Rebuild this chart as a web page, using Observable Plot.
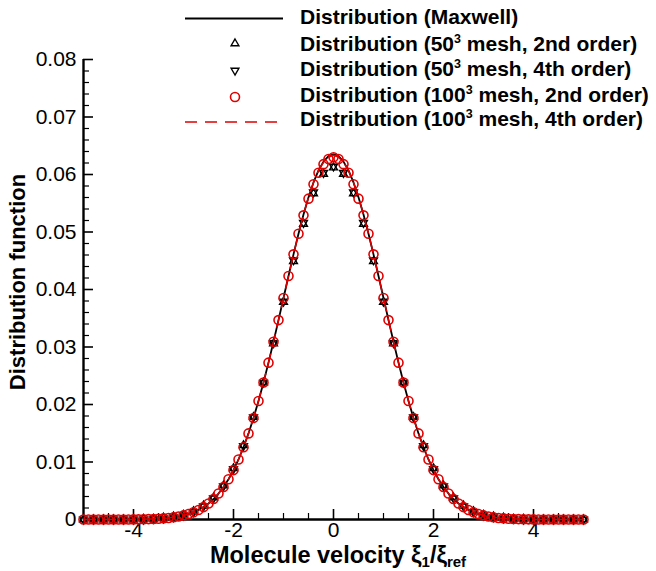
<!DOCTYPE html>
<html><head><meta charset="utf-8">
<script src="https://cdn.jsdelivr.net/npm/d3@7"></script>
<script src="https://cdn.jsdelivr.net/npm/@observablehq/plot@0.6"></script>
<style>body{margin:0;background:#fff;} svg{display:block}</style>
</head><body><div id="chart"></div>
<script>
// ---- data ----
const xFine = [-5,-4.9,-4.8,-4.7,-4.6,-4.5,-4.4,-4.3,-4.2,-4.1,-4,-3.9,-3.8,-3.7,-3.6,-3.5,-3.4,-3.3,-3.2,-3.1,-3,-2.9,-2.8,-2.7,-2.6,-2.5,-2.4,-2.3,-2.2,-2.1,-2,-1.9,-1.8,-1.7,-1.6,-1.5,-1.4,-1.3,-1.2,-1.1,-1,-0.9,-0.8,-0.7,-0.6,-0.5,-0.4,-0.3,-0.2,-0.1,0,0.1,0.2,0.3,0.4,0.5,0.6,0.7,0.8,0.9,1,1.1,1.2,1.3,1.4,1.5,1.6,1.7,1.8,1.9,2,2.1,2.2,2.3,2.4,2.5,2.6,2.7,2.8,2.9,3,3.1,3.2,3.3,3.4,3.5,3.6,3.7,3.8,3.9,4,4.1,4.2,4.3,4.4,4.5,4.6,4.7,4.8,4.9,5];
const xCoarse = [-5,-4.8,-4.6,-4.4,-4.2,-4,-3.8,-3.6,-3.4,-3.2,-3,-2.8,-2.6,-2.4,-2.2,-2,-1.8,-1.6,-1.4,-1.2,-1,-0.8,-0.6,-0.4,-0.2,0,0.2,0.4,0.6,0.8,1,1.2,1.4,1.6,1.8,2,2.2,2.4,2.6,2.8,3,3.2,3.4,3.6,3.8,4,4.2,4.4,4.6,4.8,5];

const maxwell = [0,0,0,0,0,0,0,0,0.00001,0.00001,0.00002,0.00003,0.00005,0.00007,0.00010,0.00014,0.00020,0.00027,0.00038,0.00052,0.00071,0.00095,0.00126,0.00166,0.00216,0.00279,0.00356,0.00451,0.00565,0.00700,0.00859,0.01044,0.01257,0.01497,0.01766,0.02062,0.02383,0.02728,0.03091,0.03468,0.03851,0.04235,0.04611,0.04970,0.05304,0.05604,0.05862,0.06071,0.06224,0.06318,
0.06350,
0.06318,0.06224,0.06071,0.05862,0.05604,0.05304,0.04970,0.04611,0.04235,0.03851,0.03468,0.03091,0.02728,0.02383,0.02062,0.01766,0.01497,0.01257,0.01044,0.00859,0.00700,0.00565,0.00451,0.00356,0.00279,0.00216,0.00166,0.00126,0.00095,0.00071,0.00052,0.00038,0.00027,0.00020,0.00014,0.00010,0.00007,0.00005,0.00003,0.00002,0.00001,0.00001,0,0,0,0,0,0,0,0];

const mesh100Order2 = [0,0,0,0,0,0,0,0,0.00001,0.00001,0.00002,0.00003,0.00005,0.00007,0.00010,0.00014,0.00020,0.00027,0.00038,0.00052,0.00071,0.00095,0.00126,0.00166,0.00216,0.00279,0.00356,0.00451,0.00565,0.00700,0.00859,0.01044,0.01257,0.01497,0.01766,0.02062,0.02383,0.02728,0.03091,0.03468,0.03851,0.04235,0.04611,0.04970,0.05290,0.05580,0.05830,0.06030,0.06180,0.06270,
0.06300,
0.06270,0.06180,0.06030,0.05830,0.05580,0.05290,0.04970,0.04611,0.04235,0.03851,0.03468,0.03091,0.02728,0.02383,0.02062,0.01766,0.01497,0.01257,0.01044,0.00859,0.00700,0.00565,0.00451,0.00356,0.00279,0.00216,0.00166,0.00126,0.00095,0.00071,0.00052,0.00038,0.00027,0.00020,0.00014,0.00010,0.00007,0.00005,0.00003,0.00002,0.00001,0.00001,0,0,0,0,0,0,0,0];

const mesh100Order4 = [0,0,0,0,0,0,0,0,0.00001,0.00001,0.00002,0.00003,0.00005,0.00007,0.00010,0.00014,0.00020,0.00027,0.00038,0.00052,0.00071,0.00095,0.00126,0.00166,0.00216,0.00279,0.00356,0.00451,0.00565,0.00700,0.00859,0.01044,0.01257,0.01497,0.01766,0.02062,0.02383,0.02728,0.03091,0.03468,0.03851,0.04235,0.04611,0.04970,0.05304,0.05604,0.05862,0.06071,0.06212,0.06305,
0.06335,
0.06305,0.06212,0.06071,0.05862,0.05604,0.05304,0.04970,0.04611,0.04235,0.03851,0.03468,0.03091,0.02728,0.02383,0.02062,0.01766,0.01497,0.01257,0.01044,0.00859,0.00700,0.00565,0.00451,0.00356,0.00279,0.00216,0.00166,0.00126,0.00095,0.00071,0.00052,0.00038,0.00027,0.00020,0.00014,0.00010,0.00007,0.00005,0.00003,0.00002,0.00001,0.00001,0,0,0,0,0,0,0,0];

const mesh50Order2 = [0,0,0,0,0,0,0.0001,0.0001,0.0003,0.0005,0.0008,0.0014,0.0024,0.0038,0.0059,0.0089,0.0129,0.0178,0.0238,0.0306,0.0378,0.0449,0.0514,0.0567,0.0601,
0.0612,
0.0601,0.0567,0.0514,0.0449,0.0378,0.0306,0.0238,0.0178,0.0129,0.0089,0.0059,0.0038,0.0024,0.0014,0.0008,0.0005,0.0003,0.0001,0.0001,0,0,0,0,0,0];

const mesh50Order4 = [0,0,0,0,0,0,0,0.0001,0.0002,0.0004,0.0007,0.0013,0.0023,0.0037,0.0058,0.0088,0.0128,0.0178,0.0238,0.0307,0.0379,0.0451,0.0516,0.0569,0.0603,
0.0614,
0.0603,0.0569,0.0516,0.0451,0.0379,0.0307,0.0238,0.0178,0.0128,0.0088,0.0058,0.0037,0.0023,0.0013,0.0007,0.0004,0.0002,0.0001,0,0,0,0,0,0,0];

const xTicks = [-4,-2,0,2,4];
const xTickLabels = ["-4","-2","0","2","4"];
const xMinorTicks = [-4.5,-3.5,-3,-2.5,-1.5,-1,-0.5,0.5,1,1.5,2.5,3,3.5,4.5];
const yTicks = [0,0.01,0.02,0.03,0.04,0.05,0.06,0.07,0.08];
const yTickLabels = ["0","0.01","0.02","0.03","0.04","0.05","0.06","0.07","0.08"];
const yMinorTicks = [0.002,0.004,0.006,0.008,0.012,0.014,0.016,0.018,0.022,0.024,0.026,0.028,0.032,0.034,0.036,0.038,0.042,0.044,0.046,0.048,0.052,0.054,0.056,0.058,0.062,0.064,0.066,0.068,0.072,0.074,0.076,0.078];

const legendLabels = [
  ["Distribution (Maxwell)"],
  ["Distribution (50", "3", " mesh, 2nd order)"],
  ["Distribution (50", "3", " mesh, 4th order)"],
  ["Distribution (100", "3", " mesh, 2nd order)"],
  ["Distribution (100", "3", " mesh, 4th order)"]
];
const xTitle = ["Molecule velocity ξ", "1", "/ξ", "ref"];
const yTitle = "Distribution function";

// ---- layout ----
const W = 656, H = 571, mL = 83, mR = 73, mT = 59, mB = 52;
const plotW = W - mL - mR, plotH = H - mT - mB;
const red = "#e00000";
const font = "'Liberation Sans', Arial, Helvetica, sans-serif";

const fine = xFine.map((x, i) => ({x, maxwell: maxwell[i], m2: mesh100Order2[i], m4: mesh100Order4[i]}));
const coarse = xCoarse.map((x, i) => ({x, o2: mesh50Order2[i], o4: mesh50Order4[i]}));
const triR = 2.9;

const chart = Plot.plot({
  width: W, height: H,
  marginLeft: mL, marginRight: mR, marginTop: mT, marginBottom: mB,
  x: {domain: [-5, 5]},
  y: {domain: [0, 0.08]},
  style: {fontFamily: font, fontSize: "21px", color: "black", background: "white", overflow: "visible"},
  marks: [
    Plot.axisX({ticks: xTicks, tickSize: 0, tickPadding: 3, tickFormat: d => xTickLabels[xTicks.indexOf(d)], label: null}),
    Plot.axisY({ticks: yTicks, tickSize: 0, tickPadding: 7, tickFormat: d => yTickLabels[yTicks.indexOf(d)], label: null}),
    Plot.ruleX(xTicks, {stroke: "black", strokeWidth: 1.6, insetTop: plotH - 10}),
    Plot.ruleX(xMinorTicks, {stroke: "black", strokeWidth: 1.2, insetTop: plotH - 6}),
    Plot.ruleY(yTicks, {stroke: "black", strokeWidth: 1.6, insetRight: plotW - 10}),
    Plot.ruleY(yMinorTicks, {stroke: "black", strokeWidth: 1.2, insetRight: plotW - 6}),
    Plot.ruleX([-5], {y1: 0, y2: 0.08, stroke: "black", strokeWidth: 2.4}),
    Plot.ruleY([0], {x1: -5, x2: 5, stroke: "black", strokeWidth: 2.4}),
    Plot.line(fine, {x: "x", y: "maxwell", stroke: "black", strokeWidth: 1.8}),
    Plot.dot(coarse, {x: "x", y: "o2", symbol: "triangle", r: triR, fill: "none", stroke: "black", strokeWidth: 1.4}),
    Plot.dot(coarse, {x: "x", y: "o4", symbol: "triangle", rotate: 180, r: triR, fill: "none", stroke: "black", strokeWidth: 1.4}),
    Plot.dot(fine, {x: "x", y: "m2", r: 4.5, fill: "none", stroke: red, strokeWidth: 1.6}),
    Plot.line(fine, {x: "x", y: "m4", stroke: red, strokeWidth: 1.5, strokeDasharray: "12,8"})
  ]
});
document.getElementById("chart").appendChild(chart);

// ---- titles and legend ----
const svg = d3.select(chart);
svg.append("text")
  .attr("transform", "translate(25,282) rotate(-90)")
  .attr("text-anchor", "middle").attr("font-family", font).attr("font-weight", "bold")
  .attr("font-size", 22).attr("fill", "black").text(yTitle);

const xt = svg.append("text")
  .attr("x", 338).attr("y", 563).attr("text-anchor", "middle")
  .attr("font-family", font).attr("font-weight", "bold").attr("font-size", 23.5).attr("fill", "black");
xt.append("tspan").text(xTitle[0]);
xt.append("tspan").attr("font-size", 15).attr("dy", 4).text(xTitle[1]);
xt.append("tspan").attr("font-size", 23.5).attr("dy", -4).text(xTitle[2]);
xt.append("tspan").attr("font-size", 15).attr("dy", 4).text(xTitle[3]);

const lg = svg.append("g").attr("font-family", font).attr("font-weight", "bold").attr("font-size", 21)
  .attr("fill", "black").attr("text-anchor", "start");
const baselines = [24, 50.5, 75.5, 101.5, 126];
const centers = [18.5, 43.5, 70.5, 97, 122];
legendLabels.forEach((parts, i) => {
  const t = lg.append("text").attr("x", 300).attr("y", baselines[i]).attr("text-anchor", "start");
  t.append("tspan").text(parts[0]);
  if (parts.length > 1) {
    t.append("tspan").attr("font-size", 12.5).attr("dy", -8).text(parts[1]);
    t.append("tspan").attr("font-size", 21).attr("dy", 8).text(parts[2]);
  }
});
lg.append("line").attr("x1", 185).attr("x2", 283).attr("y1", centers[0]).attr("y2", centers[0])
  .attr("stroke", "black").attr("stroke-width", 1.8);
const triPath = d3.symbol(d3.symbolTriangle, Math.PI * triR * triR)();
lg.append("path").attr("d", triPath).attr("transform", `translate(235,${centers[1]})`)
  .attr("fill", "none").attr("stroke", "black").attr("stroke-width", 1.4);
lg.append("path").attr("d", triPath).attr("transform", `translate(235,${centers[2]}) rotate(180)`)
  .attr("fill", "none").attr("stroke", "black").attr("stroke-width", 1.4);
lg.append("circle").attr("cx", 235).attr("cy", centers[3]).attr("r", 4.5)
  .attr("fill", "none").attr("stroke", red).attr("stroke-width", 1.6);
lg.append("line").attr("x1", 185).attr("x2", 283).attr("y1", centers[4]).attr("y2", centers[4])
  .attr("stroke", red).attr("stroke-width", 1.5).attr("stroke-dasharray", "12,8");
</script>
</body></html>
